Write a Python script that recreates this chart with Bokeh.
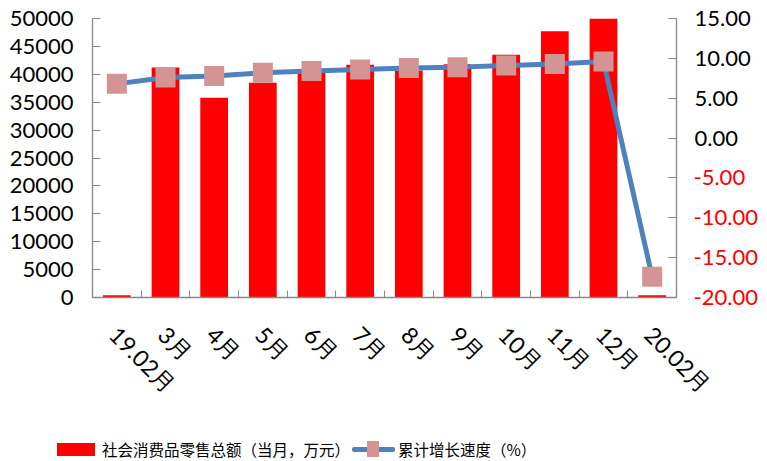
from bokeh.plotting import figure
from bokeh.layouts import column
from bokeh.models import (Range1d, LinearAxis, FixedTicker, CustomJSTickFormatter,
                          NumeralTickFormatter, ColumnDataSource, Div)
from bokeh.embed import file_html
from bokeh.resources import INLINE

# ---------------- data ----------------
categories = ["19.02月", "3月", "4月", "5月", "6月", "7月", "8月", "9月", "10月", "11月", "12月", "20.02月"]
sales = [400, 41200, 35800, 38500, 40600, 41700, 40700, 41800, 43500, 47700, 50000, 400]
growth = [6.8, 7.6, 7.8, 8.2, 8.4, 8.6, 8.8, 8.9, 9.1, 9.3, 9.6, -17.4]
left_ticks = list(range(0, 50001, 5000))
right_ticks = [-20, -15, -10, -5, 0, 5, 10, 15]
sales_name = "社会消费品零售总额（当月，万元）"
growth_name = "累计增长速度（%）"

FONT = "Lato"
CJK = "Noto Sans CJK SC"
AXIS_GRAY = "#888888"
RED = "#FF0000"
BLUE = "#4F81BD"
PINK = "#D49494"

W = 767
CH = 420          # chart figure height
LH = 41           # legend strip height

n = len(categories)
centers = [i + 0.5 for i in range(n)]
label_pos = [c - 0.06 for c in centers]
bounds = list(range(n + 1))
pos_ticks = [t for t in right_ticks if t >= 0]

p = figure(width=W, height=CH, x_range=Range1d(0, n), y_range=Range1d(0, 50000),
           output_backend="svg", toolbar_location=None,
           min_border_left=92, min_border_right=91, min_border_top=18, min_border_bottom=CH - 297,
           x_axis_type=None, y_axis_type=None)
p.outline_line_color = None
p.background_fill_color = "white"
p.border_fill_color = "white"
p.extra_y_ranges = {"right": Range1d(-20, 15)}

src = ColumnDataSource(dict(x=centers, sales=sales, growth=growth))
p.vbar(x="x", top="sales", width=0.57, source=src, fill_color=RED, line_color=None)
p.line(x="x", y="growth", source=src, y_range_name="right", line_color=BLUE, line_width=5)
p.scatter(x="x", y="growth", source=src, y_range_name="right", marker="square", size=20,
          fill_color=PINK, line_color=None)

# x axis: labels at category centres, separator ticks at boundaries
xaxis = LinearAxis(ticker=FixedTicker(ticks=label_pos, minor_ticks=bounds),
                   formatter=CustomJSTickFormatter(args=dict(labels=categories), code="return labels[index];"))
xaxis.major_tick_in = 0
xaxis.major_tick_out = 0
xaxis.minor_tick_in = 7
xaxis.minor_tick_out = 0
xaxis.minor_tick_line_color = AXIS_GRAY
xaxis.axis_line_color = AXIS_GRAY
xaxis.axis_line_width = 1.3
xaxis.major_label_orientation = -0.7853981634
xaxis.major_label_standoff = 33
xaxis.major_label_text_font = FONT
xaxis.major_label_text_font_size = "23px"
xaxis.major_label_text_color = "black"
p.add_layout(xaxis, "below")

# left axis
laxis = LinearAxis(ticker=FixedTicker(ticks=left_ticks), formatter=NumeralTickFormatter(format="0"))
laxis.major_tick_in = 8
laxis.major_tick_out = 0
laxis.minor_tick_line_color = None
laxis.major_tick_line_color = AXIS_GRAY
laxis.axis_line_color = AXIS_GRAY
laxis.axis_line_width = 1.3
laxis.major_label_standoff = 19
laxis.major_label_text_font = FONT
laxis.major_label_text_font_size = "22px"
laxis.major_label_text_color = "black"
p.add_layout(laxis, "left")

# right axis A: line, all ticks, red labels for negative values
raxis = LinearAxis(y_range_name="right", ticker=FixedTicker(ticks=right_ticks),
                   formatter=NumeralTickFormatter(format="0.00"),
                   major_label_overrides={t: "" for t in pos_ticks})
raxis.major_tick_in = 8
raxis.major_tick_out = 0
raxis.minor_tick_line_color = None
raxis.major_tick_line_color = AXIS_GRAY
raxis.axis_line_color = AXIS_GRAY
raxis.axis_line_width = 1.3
raxis.major_label_standoff = 17
raxis.major_label_text_font = FONT
raxis.major_label_text_font_size = "22px"
raxis.major_label_text_color = RED
p.add_layout(raxis, "right")

# right axis B: black labels for non-negative values, pulled back over axis A's label column
raxis2 = LinearAxis(y_range_name="right", ticker=FixedTicker(ticks=pos_ticks),
                    formatter=NumeralTickFormatter(format="0.00"))
raxis2.major_tick_in = 0
raxis2.major_tick_out = 0
raxis2.minor_tick_line_color = None
raxis2.major_tick_line_color = None
raxis2.axis_line_color = None
raxis2.major_label_standoff = -66
raxis2.major_label_text_font = FONT
raxis2.major_label_text_font_size = "22px"
raxis2.major_label_text_color = "black"
p.add_layout(raxis2, "right")

# ---------------- legend strip ----------------
legend_html = f"""
<div style="position:relative;width:{W}px;height:{LH - 4}px;font-family:'{CJK}',sans-serif;font-size:15.5px;color:#000;">
  <span style="position:absolute;left:52px;top:18px;width:38px;height:13px;background:{RED};"></span>
  <span style="position:absolute;left:97px;top:14px;line-height:20px;white-space:nowrap;">{sales_name}</span>
  <span style="position:absolute;left:347px;top:22px;width:43px;height:5px;border-radius:2px;background:{BLUE};"></span>
  <span style="position:absolute;left:362px;top:16px;width:12px;height:16px;background:{PINK};"></span>
  <span style="position:absolute;left:393px;top:14px;line-height:20px;white-space:nowrap;">{growth_name}</span>
</div>
"""
legend_div = Div(text=legend_html, width=W, height=LH)

layout = column(p, legend_div, spacing=0)
open("out.html", "w").write(file_html(layout, INLINE))
